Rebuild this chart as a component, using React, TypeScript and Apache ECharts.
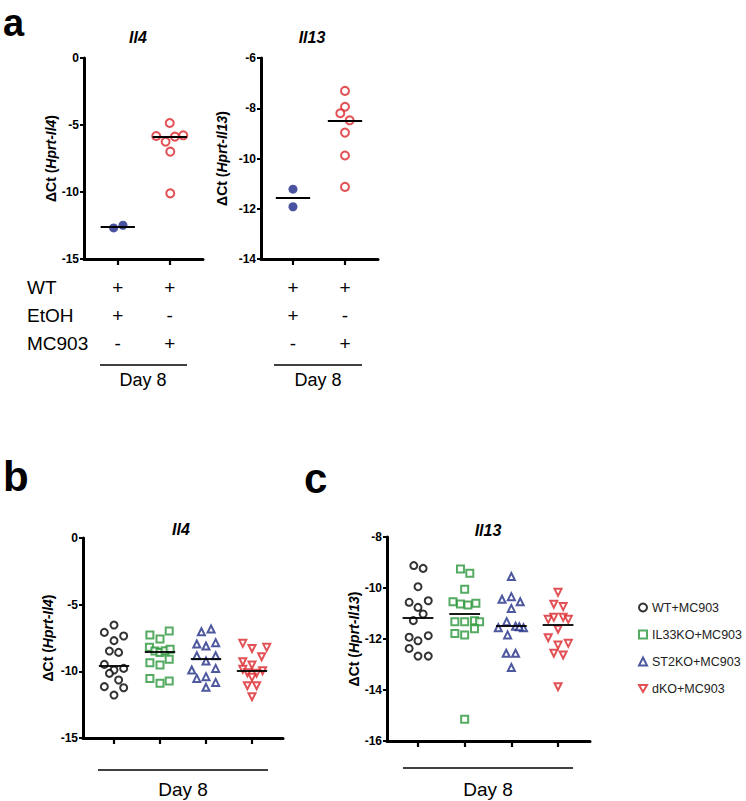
import React, { useEffect, useRef } from "react";
import * as echarts from "echarts";

// ---------- Data ----------
// Panel a
const aRowLabels = ["WT", "EtOH", "MC903"];
const aRowWT = ["+", "+"];
const aRowEtOH = ["+", "-"];
const aRowMC903 = ["-", "+"];

const aIl4EtohX = [-0.08, 0.1];
const aIl4EtohY = [-12.68, -12.48];
const aIl4EtohMedian = -12.58;
const aIl4McX = [0, -0.26, -0.08, 0.1, 0.26, 0.01, 0.01];
const aIl4McY = [-4.85, -5.82, -6.25, -5.87, -5.77, -6.99, -10.1];
const aIl4McMedian = -5.87;

const aIl13EtohX = [0, 0];
const aIl13EtohY = [-11.22, -11.92];
const aIl13EtohMedian = -11.57;
const aIl13McX = [0, 0, -0.09, 0.09, 0, 0, 0];
const aIl13McY = [-7.31, -7.94, -8.2, -8.48, -8.97, -9.88, -11.13];
const aIl13McMedian = -8.48;

// Panels b & c
const groupNames = ["WT+MC903", "IL33KO+MC903", "ST2KO+MC903", "dKO+MC903"];

const bWTX = [0, -0.21, 0.21, 0, -0.1, 0.1, -0.21, 0.21, 0, -0.1, 0.1, -0.21, 0.21, 0];
const bWTY = [-6.53, -7.08, -7.35, -7.7, -8.48, -8.58, -9.48, -9.78, -9.9, -10.15, -10.65, -11.15, -11.23, -11.78];
const bIL33X = [-0.22, 0, 0.2, -0.23, -0.11, 0, 0.11, 0.22, -0.22, 0, 0.2, -0.22, 0, 0.2];
const bIL33Y = [-7.28, -7.58, -6.98, -8.2, -8.48, -8.58, -8.45, -8.35, -9.35, -9.53, -9.1, -10.53, -10.9, -10.73];
const bST2X = [-0.1, 0.11, -0.2, 0, 0.21, -0.2, 0, 0.21, -0.31, 0.21, -0.2, 0, 0, 0.21];
const bST2Y = [-7.03, -6.83, -7.95, -8.1, -7.85, -8.83, -9.23, -8.83, -9.9, -9.78, -10.53, -10.4, -11.2, -10.83];
const bDKOX = [-0.2, 0, 0.32, 0.21, -0.2, 0, -0.2, -0.1, 0.1, 0.23, 0, -0.1, 0.1, 0];
const bDKOY = [-7.9, -8.28, -8.2, -8.9, -9.28, -9.53, -9.85, -10.1, -10.15, -9.95, -10.45, -11.08, -11.08, -11.9];
const bMedians = [-9.6, -8.53, -9.03, -9.95];

const cWTX = [-0.09, 0.11, 0, -0.19, 0.22, 0, 0.11, -0.1, -0.19, 0, 0.22, -0.19, 0, 0.22];
const cWTY = [-9.12, -9.23, -9.95, -10.56, -10.5, -10.76, -11.02, -11.28, -11.93, -12.07, -11.87, -12.37, -12.67, -12.67];
const cIL33X = [-0.09, 0.11, 0, -0.25, -0.09, 0.07, 0.24, -0.21, 0, 0.21, 0.32, -0.21, 0, 0.21, 0];
const cIL33Y = [-9.25, -9.42, -10.05, -10.54, -10.63, -10.67, -10.6, -11.32, -11.32, -11.28, -11.32, -11.78, -11.84, -11.6, -15.15];
const cST2X = [0, -0.2, 0, 0.19, 0, -0.1, -0.28, 0.09, 0.26, 0.17, -0.08, -0.11, 0.09, 0];
const cST2Y = [-9.55, -10.44, -10.34, -10.54, -10.8, -11.32, -11.56, -11.5, -11.56, -11.52, -11.84, -12.56, -12.56, -13.12];
const cDKOX = [0, -0.09, 0.11, -0.21, -0.09, 0.11, 0.22, 0, -0.21, 0, 0.22, -0.09, 0.11, 0];
const cDKOY = [-10.17, -10.64, -10.73, -11.23, -11.15, -11.15, -11.23, -11.62, -11.95, -12.24, -12.17, -12.56, -12.63, -13.87];
const cMedians = [-11.15, -11.02, -11.48, -11.45];

// ---------- Styles ----------
const FONT = "'Liberation Sans', Arial, Helvetica, sans-serif";
const RED = "#d9262b";
const GREEN = "#2a9639";
const BLUE = "#222e86";
const NAVY = "#1b2888";
const BLACK = "#000000";
const DOWN_TRI = "path://M0,0L10,0L5,8.66Z";

const groupColors = [BLACK, GREEN, BLUE, RED];
const groupSymbols = ["circle", "rect", "triangle", DOWN_TRI];

const HALF = 0.33;

function pts(g: number, xs: number[], ys: number[]) {
  return ys.map((y, i) => [g + xs[i], y]);
}

function medianLine(g: number, m: number) {
  return {
    silent: true,
    symbol: ["none", "none"],
    label: { show: false },
    emphasis: { disabled: true },
    lineStyle: { color: "#000", width: 1.8, type: "solid" },
    data: [[{ coord: [g - HALF, m] }, { coord: [g + HALF, m] }]],
  };
}

function yAxis(gridIndex: number, min: number, max: number, interval: number, gene: string, nameGap: number) {
  return {
    type: "value",
    gridIndex,
    min,
    max,
    interval,
    splitLine: { show: false },
    axisLine: { show: true, lineStyle: { color: "#000", width: 3 } },
    axisTick: { show: true, length: 4, lineStyle: { color: "#000", width: 2 } },
    axisLabel: { color: "#000", fontFamily: FONT, fontWeight: "bold", fontSize: 12, margin: 5 },
    name: `{n|ΔCt (}{i|Hprt-${gene}}{n|)}`,
    nameLocation: "middle",
    nameGap,
    nameRotate: 90,
    nameTextStyle: {
      fontFamily: FONT,
      fontWeight: "bold",
      fontSize: 14,
      color: "#000",
      rich: {
        n: { fontFamily: FONT, fontWeight: "bold", fontSize: 14, color: "#000" },
        i: { fontFamily: FONT, fontWeight: "bold", fontStyle: "italic", fontSize: 14, color: "#000" },
      },
    },
  };
}

function xAxis(gridIndex: number, min: number, max: number, ticks: number[], labels: boolean) {
  return {
    type: "value",
    gridIndex,
    min,
    max,
    splitLine: { show: false },
    axisLine: { show: true, onZero: false, lineStyle: { color: "#000", width: 3 } },
    axisTick: { show: true, length: 6, customValues: ticks, lineStyle: { color: "#000", width: 2.2 } },
    axisLabel: labels
      ? {
          show: true,
          customValues: ticks,
          fontFamily: FONT,
          fontSize: 19,
          color: "#000",
          lineHeight: 28,
          margin: 14,
          formatter: (v: number) => {
            const i = Math.round(v) - 1;
            return [aRowWT[i], aRowEtOH[i], aRowMC903[i]].join("\n");
          },
        }
      : { show: false },
  };
}

function hollow(color: string, bw = 2) {
  return { color: "#ffffff", borderColor: color, borderWidth: bw };
}

export default function App() {
  const ref = useRef<HTMLDivElement>(null);

  useEffect(() => {
    if (!ref.current) return;
    const chart = echarts.init(ref.current, undefined, { renderer: "svg" });

    const series: any[] = [];
    // panel a left
    series.push({
      type: "scatter", xAxisIndex: 0, yAxisIndex: 0, name: "a-il4-etoh",
      data: pts(1, aIl4EtohX, aIl4EtohY), symbol: "circle", symbolSize: 9,
      itemStyle: { color: NAVY }, markLine: medianLine(1, aIl4EtohMedian),
    });
    series.push({
      type: "scatter", xAxisIndex: 0, yAxisIndex: 0, name: "a-il4-mc",
      data: pts(2, aIl4McX, aIl4McY), symbol: "circle", symbolSize: 8,
      itemStyle: hollow(RED), markLine: medianLine(2, aIl4McMedian),
    });
    // panel a right
    series.push({
      type: "scatter", xAxisIndex: 1, yAxisIndex: 1, name: "a-il13-etoh",
      data: pts(1, aIl13EtohX, aIl13EtohY), symbol: "circle", symbolSize: 9,
      itemStyle: { color: NAVY }, markLine: medianLine(1, aIl13EtohMedian),
    });
    series.push({
      type: "scatter", xAxisIndex: 1, yAxisIndex: 1, name: "a-il13-mc",
      data: pts(2, aIl13McX, aIl13McY), symbol: "circle", symbolSize: 8,
      itemStyle: hollow(RED), markLine: medianLine(2, aIl13McMedian),
    });

    const bX = [bWTX, bIL33X, bST2X, bDKOX];
    const bY = [bWTY, bIL33Y, bST2Y, bDKOY];
    const cX = [cWTX, cIL33X, cST2X, cDKOX];
    const cY = [cWTY, cIL33Y, cST2Y, cDKOY];
    groupNames.forEach((name, k) => {
      series.push({
        type: "scatter", xAxisIndex: 2, yAxisIndex: 2, name,
        data: pts(k + 1, bX[k], bY[k]), symbol: groupSymbols[k], symbolSize: 7,
        itemStyle: hollow(groupColors[k]), markLine: medianLine(k + 1, bMedians[k]),
      });
      series.push({
        type: "scatter", xAxisIndex: 3, yAxisIndex: 3, name,
        data: pts(k + 1, cX[k], cY[k]), symbol: groupSymbols[k], symbolSize: 7,
        itemStyle: hollow(groupColors[k]), markLine: medianLine(k + 1, cMedians[k]),
      });
    });

    const text = (x: number, y: number, t: string, size: number, extra: any = {}) => ({
      type: "text", x, y,
      style: { text: t, fontFamily: FONT, fontSize: size, fill: "#000", align: "center", verticalAlign: "middle", ...extra },
    });
    const hline = (x1: number, x2: number, y: number) => ({
      type: "line", shape: { x1, y1: y, x2, y2: y }, style: { stroke: "#000", lineWidth: 1.6 },
    });

    const graphic: any[] = [
      text(3, 4, "a", 38, { fontWeight: "bold", align: "left", verticalAlign: "top" }),
      text(3, 476, "b", 42, { fontWeight: "bold", align: "left" }),
      text(304, 478, "c", 42, { fontWeight: "bold", align: "left" }),
      text(138, 37, "Il4", 16, { fontWeight: "bold", fontStyle: "italic" }),
      text(312, 37, "Il13", 16, { fontWeight: "bold", fontStyle: "italic" }),
      text(181, 529, "Il4", 16, { fontWeight: "bold", fontStyle: "italic" }),
      text(488, 530, "Il13", 16, { fontWeight: "bold", fontStyle: "italic" }),
      ...aRowLabels.map((t, i) => text(27, 287 + i * 28, t, 19, { align: "left" })),
      hline(100, 187, 365),
      hline(274, 362, 365),
      text(143, 380, "Day 8", 18),
      text(318, 380, "Day 8", 18),
      hline(98, 268, 770),
      hline(403, 573, 768),
      text(183, 789, "Day 8", 19),
      text(488, 789, "Day 8", 19),
    ];

    chart.setOption({
      animation: false,
      backgroundColor: "#ffffff",
      textStyle: { fontFamily: FONT },
      grid: [
        { left: 84, top: 58, width: 119, height: 201 },
        { left: 261, top: 58, width: 117, height: 201 },
        { left: 83, top: 538, width: 200, height: 200 },
        { left: 387, top: 537, width: 203, height: 204 },
      ],
      xAxis: [
        xAxis(0, 0.35, 2.64, [1, 2], true),
        xAxis(1, 0.385, 2.635, [1, 2], true),
        xAxis(2, 0.326, 4.674, [1, 2, 3, 4], false),
        xAxis(3, 0.336, 4.685, [1, 2, 3, 4], false),
      ],
      yAxis: [
        yAxis(0, -15, 0, 5, "Il4", 22),
        yAxis(1, -14, -6, 2, "Il13", 32),
        yAxis(2, -15, 0, 5, "Il4", 28),
        yAxis(3, -16, -8, 2, "Il13", 16),
      ],
      legend: {
        orient: "vertical",
        left: 633,
        top: 596,
        itemWidth: 8,
        itemHeight: 8,
        itemGap: 14,
        selectedMode: false,
        textStyle: { fontFamily: FONT, fontSize: 12.5, color: "#222" },
        data: groupNames.map((n, k) => ({ name: n, icon: groupSymbols[k] })),
      },
      graphic,
      series,
    });

    return () => chart.dispose();
  }, []);

  return (
    <div
      ref={ref}
      style={{ position: "absolute", left: 0, top: 0, width: 746, height: 801, background: "#fff" }}
    />
  );
}
